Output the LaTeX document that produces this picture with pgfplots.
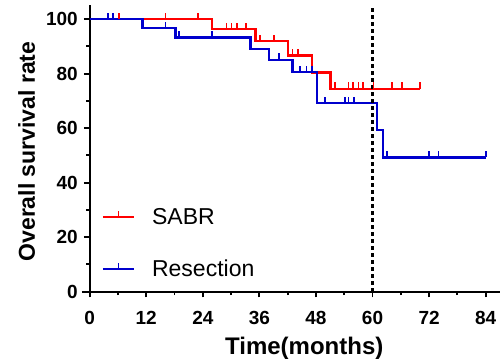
\documentclass[border=0pt]{standalone}
\usepackage{pgfplots}
\pgfplotsset{compat=1.18}
\usepackage{fontspec}
\setmainfont{Liberation Sans}
\definecolor{sred}{RGB}{255,0,0}
\definecolor{rblue}{RGB}{0,0,205}
\pgfdeclareplotmark{cens}{\pgfpathmoveto{\pgfqpoint{0pt}{0pt}}\pgfpathlineto{\pgfqpoint{0pt}{6.5bp}}\pgfusepathqstroke}
\begin{document}
\begin{tikzpicture}
\begin{axis}[
  at={(0,0)}, anchor=south west,
  scale only axis, width=417.8bp, height=286.7bp,
  xmin=-1.63, xmax=87, ymin=0, ymax=105.2, enlargelimits=false,
  axis lines=middle, axis line style={-, line width=1.9bp, black},
  xtick={0,12,...,84}, ytick={0,20,...,100},
  minor x tick num=1, minor y tick num=1,
  hide obscured x ticks=false, hide obscured y ticks=false,
  tick align=outside, major tick length=5.7bp, minor tick length=3.5bp,
  tick style={line width=1.9bp, black},
  /pgf/number format/assume math mode=true,
  ticklabel style={font=\bfseries\fontsize{19bp}{19bp}\selectfont, inner sep=0pt},
  xticklabel style={anchor=north, yshift=-14bp},
  yticklabel style={anchor=east, xshift=-6bp},
  xlabel={Time(months)}, ylabel={Overall survival rate},
  every axis x label/.style={at={(axis description cs:0.532,-0.2186)}, anchor=base, font=\bfseries\fontsize{24bp}{24bp}\selectfont},
  every axis y label/.style={at={(axis description cs:-0.1125,0.489)}, rotate=90, anchor=base, font=\bfseries\fontsize{23bp}{23bp}\selectfont},
  clip=false,
  legend image code/.code={\draw[#1] (0bp,0bp) -- (31bp,0bp); \draw[#1, line width=1.7bp] (15.5bp,0bp) -- (15.5bp,6.5bp);},
  legend cell align=left,
  legend style={draw=none, fill=none, inner sep=0pt, outer sep=0pt,
    at={(axis cs:2.55,30.6)}, anchor=north west,
    font=\fontsize{23bp}{23bp}\selectfont,
    nodes={inner sep=0pt},
    row sep=34.2bp,
    /tikz/every odd column/.append style={column sep=17bp}},
]
% SABR step curve
\addplot[sred, line width=2.4bp, const plot, forget plot] coordinates {
 (0,100) (26,96.3) (35.2,91.9) (42.1,86.7) (47.1,80.5) (51.1,74.4) (70.1,74.4)};
\addplot[sred, line width=1.7bp, only marks, mark=cens, forget plot] coordinates {
 (6.2,100) (16.1,100) (23.0,100) (29.0,96.3) (30.1,96.3) (31.2,96.3) (33.1,96.3)
 (36.1,91.9) (39.1,91.9) (43.0,86.7) (44.2,86.7)
 (52.0,74.4) (54.9,74.4) (55.9,74.4) (57.0,74.4) (58.0,74.4) (60.2,74.4) (64.1,74.4) (66.2,74.4) (70.1,74.4)};
% Resection step curve
\addplot[rblue, line width=2.4bp, const plot, forget plot] coordinates {
 (0,100) (11.2,96.7) (18.2,93.3) (34.1,89.0) (38.1,85.1) (43.0,80.6) (48.2,69.2) (61.0,59.4) (62.2,49.3) (84,49.3)};
\addplot[rblue, line width=1.7bp, only marks, mark=cens, forget plot] coordinates {
 (3.9,100) (5.0,100) (16.1,96.7) (19.0,93.3) (26.0,93.3) (40.2,85.1)
 (44.6,80.6) (46.0,80.6) (47.1,80.6)
 (49.9,69.2) (54.2,69.2) (54.9,69.2) (56.1,69.2)
 (63.0,49.3) (72.0,49.3) (74.0,49.3) (84.0,49.3)};
% 60-month reference line
\addplot[black, line width=2.4bp, dash pattern=on 4bp off 3bp, forget plot] coordinates {(60,0) (60,105.2)};
\addlegendimage{sred, line width=2.4bp}
\addlegendentry{SABR}
\addlegendimage{rblue, line width=2.4bp}
\addlegendentry{Resection}
\end{axis}
\pgfresetboundingbox
\path[use as bounding box] (-82bp,-67.3bp) rectangle (422bp,291.7bp);
\end{tikzpicture}
\end{document}
